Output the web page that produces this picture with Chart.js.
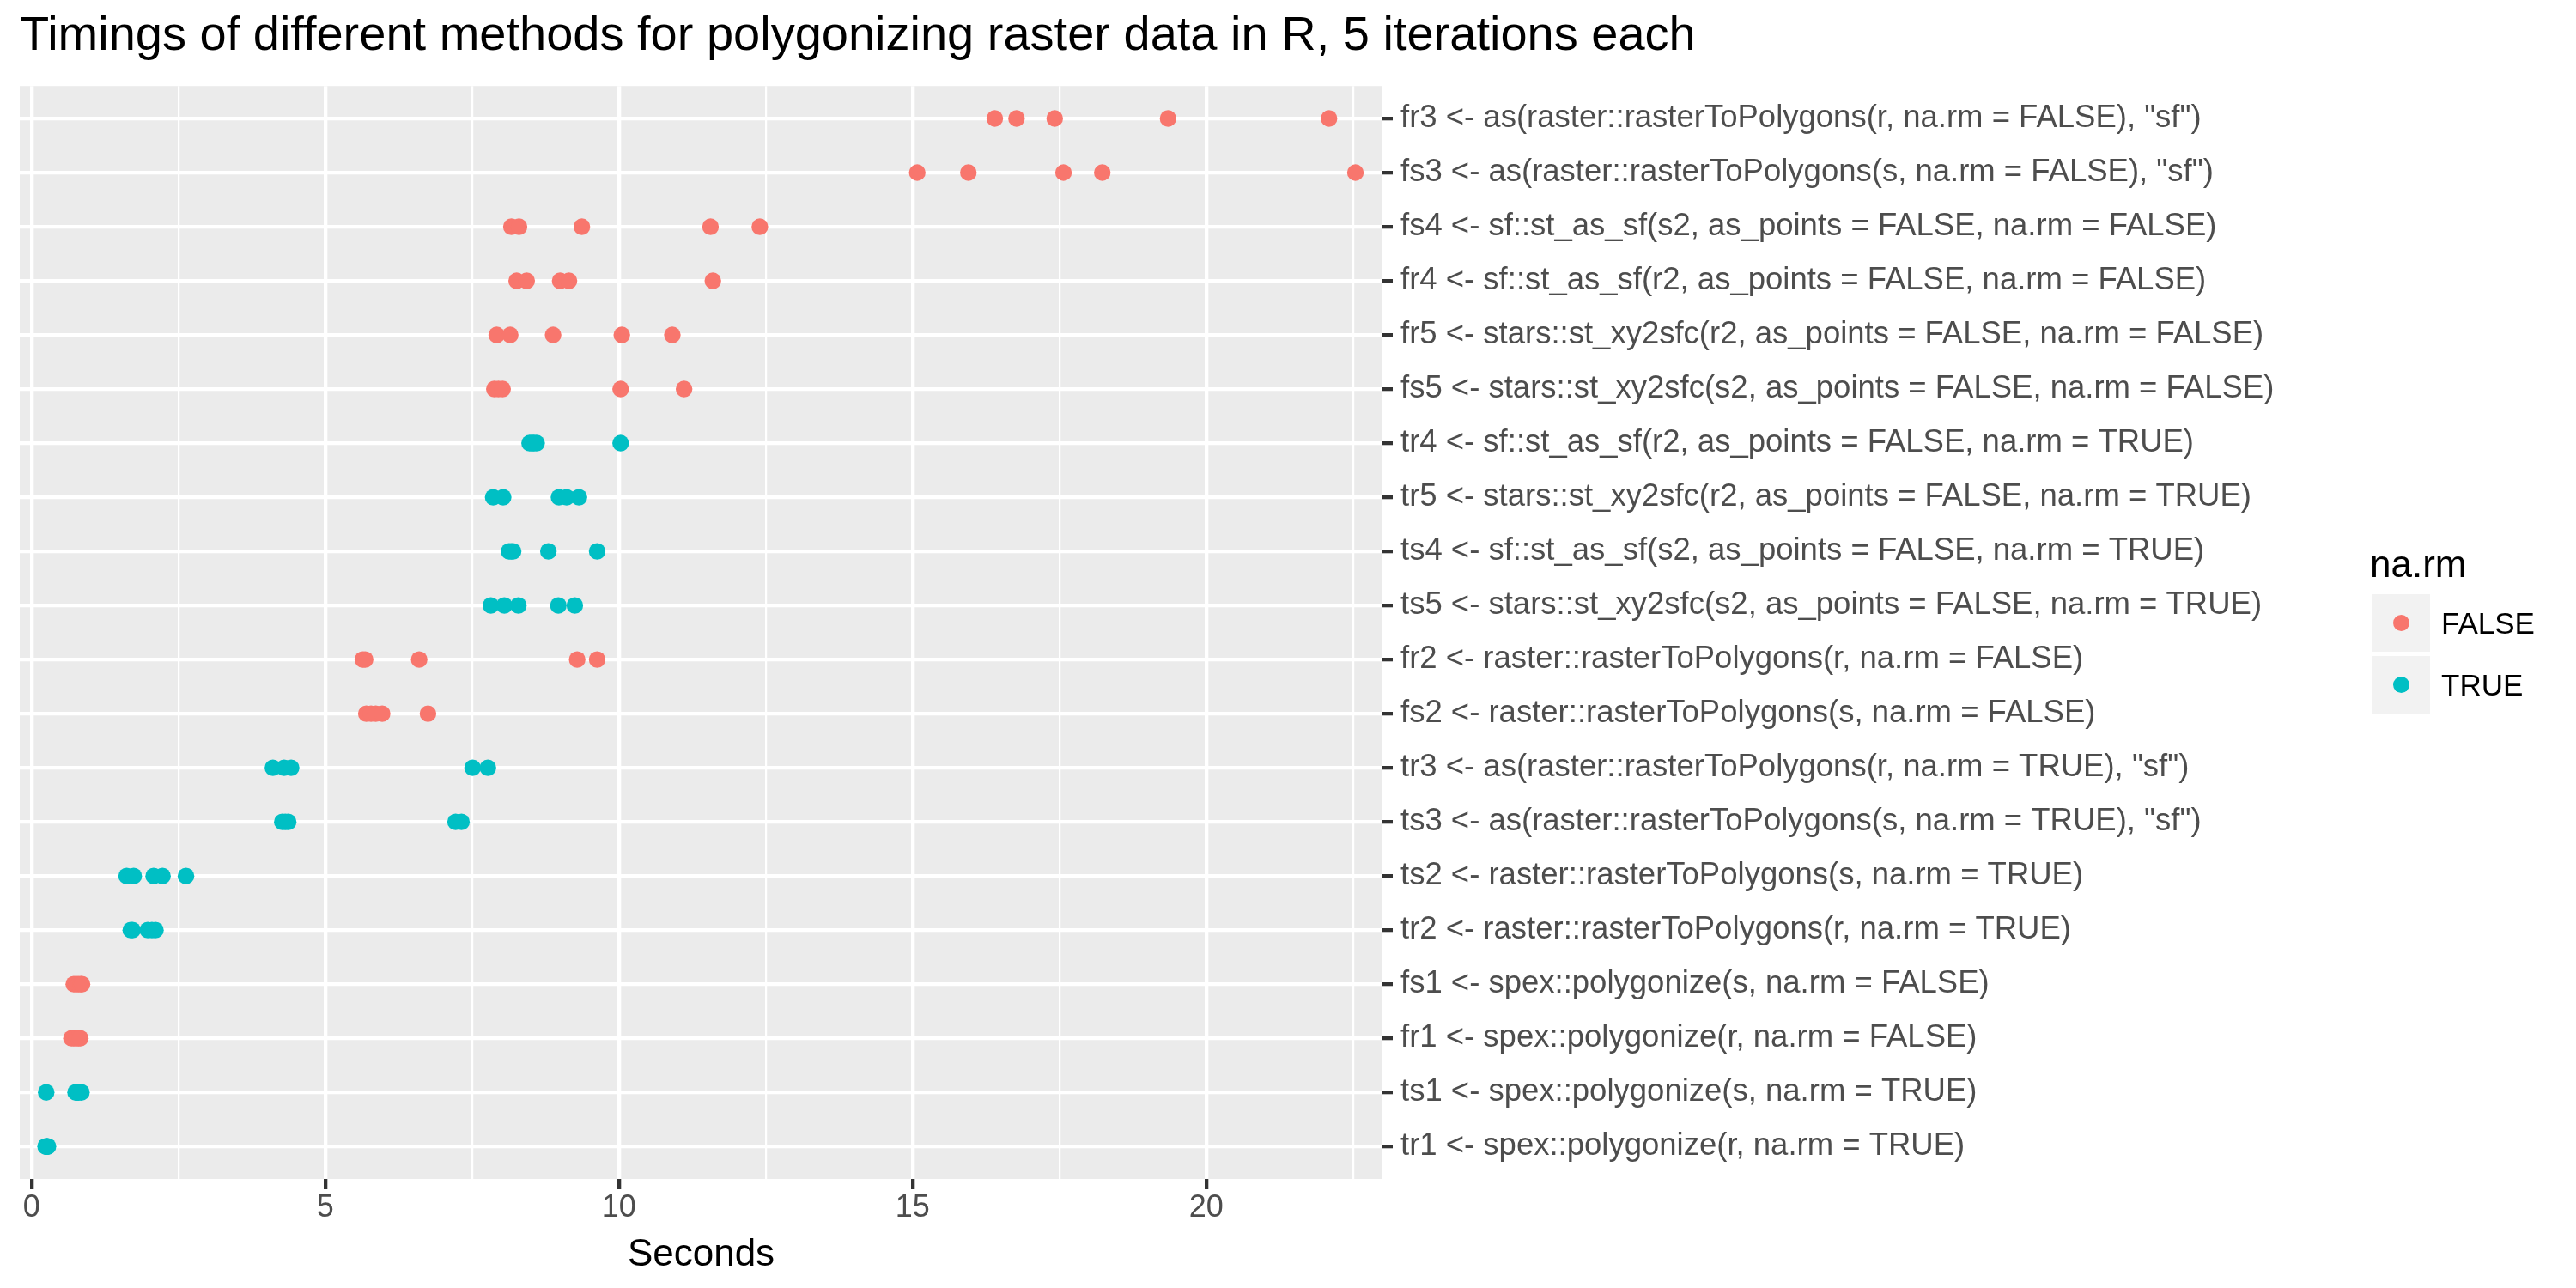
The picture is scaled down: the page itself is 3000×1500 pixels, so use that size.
<!DOCTYPE html>
<html>
<head>
<meta charset="utf-8">
<script src="https://cdn.jsdelivr.net/npm/chart.js@4/dist/chart.umd.min.js"></script>
<style>
  html, body { margin: 0; padding: 0; background: #ffffff; }
  #wrap { position: relative; width: 3000px; height: 1500px; }
  #c { position: absolute; left: 0; top: 0; }
  .lg { position: absolute; font-family: "Liberation Sans", Arial, sans-serif; color: #000; white-space: nowrap; }
  .lg-title { font-size: 44px; line-height: 44px; }
  .lg-key { position: absolute; width: 67px; height: 67px; background: #F2F2F2; }
  .lg-dot { position: absolute; left: 24px; top: 24px; width: 19.4px; height: 19.4px; border-radius: 50%; }
  .lg-label { font-size: 35px; line-height: 67px; height: 67px; }
</style>
</head>
<body>
<div id="wrap">
  <canvas id="c" width="3000" height="1500" style="width:3000px;height:1500px"></canvas>
  <div class="lg lg-title" style="left:2760px;top:635px;">na.rm</div>
  <div class="lg-key" style="left:2763px;top:692px;"><div class="lg-dot" style="background:#F8766D"></div></div>
  <div class="lg lg-label" style="left:2843px;top:692px;">FALSE</div>
  <div class="lg-key" style="left:2763px;top:764px;"><div class="lg-dot" style="background:#00BFC4"></div></div>
  <div class="lg lg-label" style="left:2843px;top:764px;">TRUE</div>
</div>
<script>
// ---- data (categories listed top to bottom) ----
const categories = [
  'fr3 <- as(raster::rasterToPolygons(r, na.rm = FALSE), "sf")',
  'fs3 <- as(raster::rasterToPolygons(s, na.rm = FALSE), "sf")',
  'fs4 <- sf::st_as_sf(s2, as_points = FALSE, na.rm = FALSE)',
  'fr4 <- sf::st_as_sf(r2, as_points = FALSE, na.rm = FALSE)',
  'fr5 <- stars::st_xy2sfc(r2, as_points = FALSE, na.rm = FALSE)',
  'fs5 <- stars::st_xy2sfc(s2, as_points = FALSE, na.rm = FALSE)',
  'tr4 <- sf::st_as_sf(r2, as_points = FALSE, na.rm = TRUE)',
  'tr5 <- stars::st_xy2sfc(r2, as_points = FALSE, na.rm = TRUE)',
  'ts4 <- sf::st_as_sf(s2, as_points = FALSE, na.rm = TRUE)',
  'ts5 <- stars::st_xy2sfc(s2, as_points = FALSE, na.rm = TRUE)',
  'fr2 <- raster::rasterToPolygons(r, na.rm = FALSE)',
  'fs2 <- raster::rasterToPolygons(s, na.rm = FALSE)',
  'tr3 <- as(raster::rasterToPolygons(r, na.rm = TRUE), "sf")',
  'ts3 <- as(raster::rasterToPolygons(s, na.rm = TRUE), "sf")',
  'ts2 <- raster::rasterToPolygons(s, na.rm = TRUE)',
  'tr2 <- raster::rasterToPolygons(r, na.rm = TRUE)',
  'fs1 <- spex::polygonize(s, na.rm = FALSE)',
  'fr1 <- spex::polygonize(r, na.rm = FALSE)',
  'ts1 <- spex::polygonize(s, na.rm = TRUE)',
  'tr1 <- spex::polygonize(r, na.rm = TRUE)'
];
const naRm = ['FALSE','FALSE','FALSE','FALSE','FALSE','FALSE','TRUE','TRUE','TRUE','TRUE',
              'FALSE','FALSE','TRUE','TRUE','TRUE','TRUE','FALSE','FALSE','TRUE','TRUE'];

// seconds per method, 5 iterations each
const secFr3 = [16.40, 16.77, 17.42, 19.35, 22.09];
const secFs3 = [15.08, 15.95, 17.57, 18.23, 22.54];
const secFs4 = [8.17, 8.30, 9.37, 11.56, 12.40];
const secFr4 = [8.26, 8.43, 9.00, 9.15, 11.60];
const secFr5 = [7.92, 8.15, 8.88, 10.05, 10.91];
const secFs5 = [7.88, 7.95, 8.02, 10.03, 11.11];
const secTr4 = [8.48, 8.52, 8.55, 8.60, 10.03];
const secTr5 = [7.86, 8.03, 8.98, 9.11, 9.32];
const secTs4 = [8.13, 8.17, 8.20, 8.80, 9.63];
const secTs5 = [7.82, 8.05, 8.29, 8.97, 9.25];
const secFr2 = [5.64, 5.68, 6.60, 9.29, 9.63];
const secFs2 = [5.70, 5.78, 5.86, 5.97, 6.75];
const secTr3 = [4.11, 4.30, 4.42, 7.51, 7.77];
const secTs3 = [4.27, 4.32, 4.37, 7.22, 7.32];
const secTs2 = [1.62, 1.74, 2.08, 2.23, 2.63];
const secTr2 = [1.69, 1.72, 1.98, 2.05, 2.11];
const secFs1 = [0.72, 0.76, 0.80, 0.84, 0.86];
const secFr1 = [0.68, 0.72, 0.76, 0.80, 0.83];
const secTs1 = [0.25, 0.75, 0.78, 0.80, 0.85];
const secTr1 = [0.24, 0.25, 0.26, 0.27, 0.28];

const seconds = [secFr3, secFs3, secFs4, secFr4, secFr5, secFs5, secTr4, secTr5, secTs4, secTs5,
                 secFr2, secFs2, secTr3, secTs3, secTs2, secTr2, secFs1, secFr1, secTs1, secTr1];

const groups = ['FALSE', 'TRUE'];
const groupColors = ['#F8766D', '#00BFC4'];
const xTickValues = [0, 2.5, 5, 7.5, 10, 12.5, 15, 17.5, 20, 22.5];
const xMajorTicks = [0, 5, 10, 15, 20];

// ---- build chart ----
const n = categories.length;
const datasets = groups.map((g, gi) => ({
  label: g,
  data: categories.flatMap((c, i) => naRm[i] === g ? seconds[i].map(v => ({ x: v, y: n - i })) : []),
  backgroundColor: groupColors[gi],
  pointBackgroundColor: groupColors[gi],
  pointBorderWidth: 0,
  pointRadius: 9.7,
  pointHoverRadius: 9.7,
  showLine: false
}));

const FONT = '"Liberation Sans", Arial, sans-serif';

const panelBg = {
  id: 'panelBg',
  beforeDraw(chart) {
    const { ctx, chartArea: a } = chart;
    ctx.save();
    ctx.fillStyle = '#EBEBEB';
    ctx.fillRect(a.left, a.top, a.right - a.left, a.bottom - a.top);
    ctx.restore();
  }
};

new Chart(document.getElementById('c'), {
  type: 'scatter',
  data: { datasets },
  plugins: [panelBg],
  options: {
    responsive: false,
    devicePixelRatio: 1,
    animation: false,
    layout: { padding: { left: 23, right: 0, top: 0, bottom: 0 } },
    plugins: {
      legend: { display: false },
      tooltip: { enabled: false },
      title: {
        display: true,
        text: 'Timings of different methods for polygonizing raster data in R, 5 iterations each',
        align: 'start',
        color: '#000000',
        font: { family: FONT, size: 56, weight: 'normal', lineHeight: 1.2 },
        padding: { top: 9, bottom: 24 }
      }
    },
    scales: {
      x: {
        type: 'linear',
        position: 'bottom',
        min: -0.2,
        max: 23.0,
        afterBuildTicks: s => { s.ticks = xTickValues.map(v => ({ value: v })); },
        afterFit: s => { s.height = 127; },
        ticks: {
          autoSkip: false,
          maxRotation: 0,
          color: '#4D4D4D',
          font: { family: FONT, size: 36 },
          padding: 0,
          callback: v => xMajorTicks.includes(v) ? String(v) : ''
        },
        grid: {
          color: '#FFFFFF',
          lineWidth: c => xMajorTicks.includes(c.tick.value) ? 4.3 : 2.2,
          tickColor: c => xMajorTicks.includes(c.tick.value) ? '#333333' : 'rgba(0,0,0,0)',
          tickWidth: 4.3,
          tickLength: 12
        },
        border: { display: false },
        title: {
          display: true,
          text: 'Seconds',
          color: '#000000',
          font: { family: FONT, size: 44 },
          padding: { top: 0, bottom: 12 }
        }
      },
      y: {
        type: 'linear',
        position: 'right',
        min: 0.4,
        max: n + 0.6,
        afterBuildTicks: s => { s.ticks = categories.map((c, i) => ({ value: n - i })); },
        afterFit: s => { s.width = 1390; },
        ticks: {
          autoSkip: false,
          color: '#4D4D4D',
          font: { family: FONT, size: 36.5 },
          padding: 9,
          callback: v => categories[n - v]
        },
        grid: {
          color: '#FFFFFF',
          lineWidth: 4.3,
          tickColor: '#333333',
          tickWidth: 4.3,
          tickLength: 12
        },
        border: { display: false }
      }
    }
  }
});
</script>
</body>
</html>
